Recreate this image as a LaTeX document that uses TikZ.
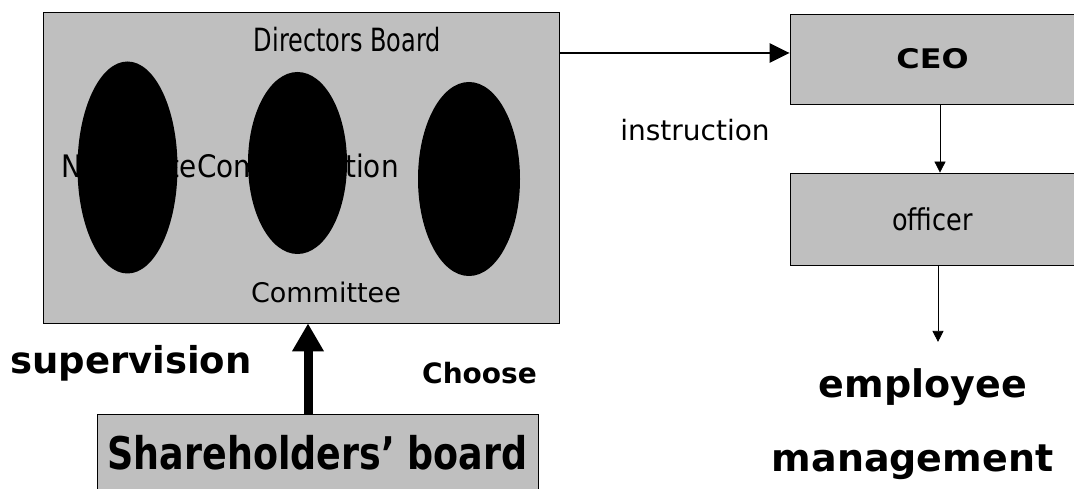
\documentclass[tikz,border=0pt]{standalone}
\usepackage{fontspec}
\setmainfont{DejaVu Sans}
\usetikzlibrary{shapes,arrows.meta,positioning,calc}
\newcommand{\fsz}[1]{\fontsize{#1}{#1}\selectfont}
\tikzstyle{gbox}=[rectangle, draw, line width=0.8pt, fill=black!25, inner sep=0pt]
\tikzstyle{blob}=[ellipse, fill=black, inner sep=0pt]
\tikzstyle{lbl}=[inner sep=0pt, anchor=base]
\tikzstyle{bigarr}=[-{Triangle[length=28pt,width=30pt]}, line width=9pt]
\tikzstyle{midarr}=[-{Triangle[length=20pt,width=19pt]}, line width=2.5pt]
\tikzstyle{smallarr}=[-{Triangle[length=11pt,width=11pt]}, line width=0.8pt]

\begin{document}
\begin{tikzpicture}[x=1pt,y=-1pt]
\useasboundingbox (0,0) rectangle (1074,489);
% directors board with its committees
\node[gbox, minimum width=516pt, minimum height=311pt] (dir) at (301,167.5) {};
\node[lbl, font=\fsz{32}] (dirt) at (347.5,52) {\scalebox{0.75}[1]{Directors Board}};
\node[lbl, anchor=base west, font=\fsz{31}] (nom) at (61,178) {\scalebox{0.9}[1]{Nominate}};
\node[lbl, anchor=base west, font=\fsz{31}] (comp) at (nom.base east) {\scalebox{0.9}[1]{Compensation}};
\node[lbl, font=\fsz{27}] (com) at (326,302) {Committee};
\node[blob, minimum width=100pt, minimum height=212pt] (e1) at (127.5,167.5) {};
\node[blob, minimum width=99pt, minimum height=182pt] (e2) at (297.5,163) {};
\node[blob, minimum width=102pt, minimum height=194pt] (e3) at (469,179) {};

% management side
\node[gbox, minimum width=285pt, minimum height=90pt, font=\bfseries\fsz{27}] (ceo) at (932.5,59) {\scalebox{1.18}[1]{CEO}};
\node[gbox, minimum width=285pt, minimum height=92pt, font=\fsz{30}] (off) at (932.5,219) {\scalebox{0.85}[1]{officer}};
\node[lbl, font=\fsz{28}] (ins) at (695,141) {instruction};
\node[lbl, font=\bfseries\fsz{38}] (emp) at (923,397) {employee};
\node[lbl, font=\bfseries\fsz{38}] (man) at (912.5,471) {management};

% shareholders
\node[gbox, minimum width=441pt, minimum height=78pt, font=\bfseries\fsz{45}] (sh) at (317.5,453) {\scalebox{0.81}[1]{Shareholders' board}};
\node[lbl, font=\bfseries\fsz{37}] (sup) at (131,373) {supervision};
\node[lbl, font=\bfseries\fsz{28}] (cho) at (479.5,383) {Choose};

% arrows
\coordinate (ceoin) at ([yshift=6pt]ceo.west);
\coordinate (offout) at ([xshift=5.5pt]off.south);
\draw[bigarr] ([xshift=-9.5pt]sh.north) -- ([xshift=7pt]dir.south);
\draw[midarr] (dir.east |- ceoin) -- (ceoin);
\draw[smallarr] ([xshift=7.5pt]ceo.south) -- ([xshift=7.5pt]off.north);
\draw[smallarr, shorten >=26pt] (offout) -- (offout |- emp.north);
\end{tikzpicture}
\end{document}
